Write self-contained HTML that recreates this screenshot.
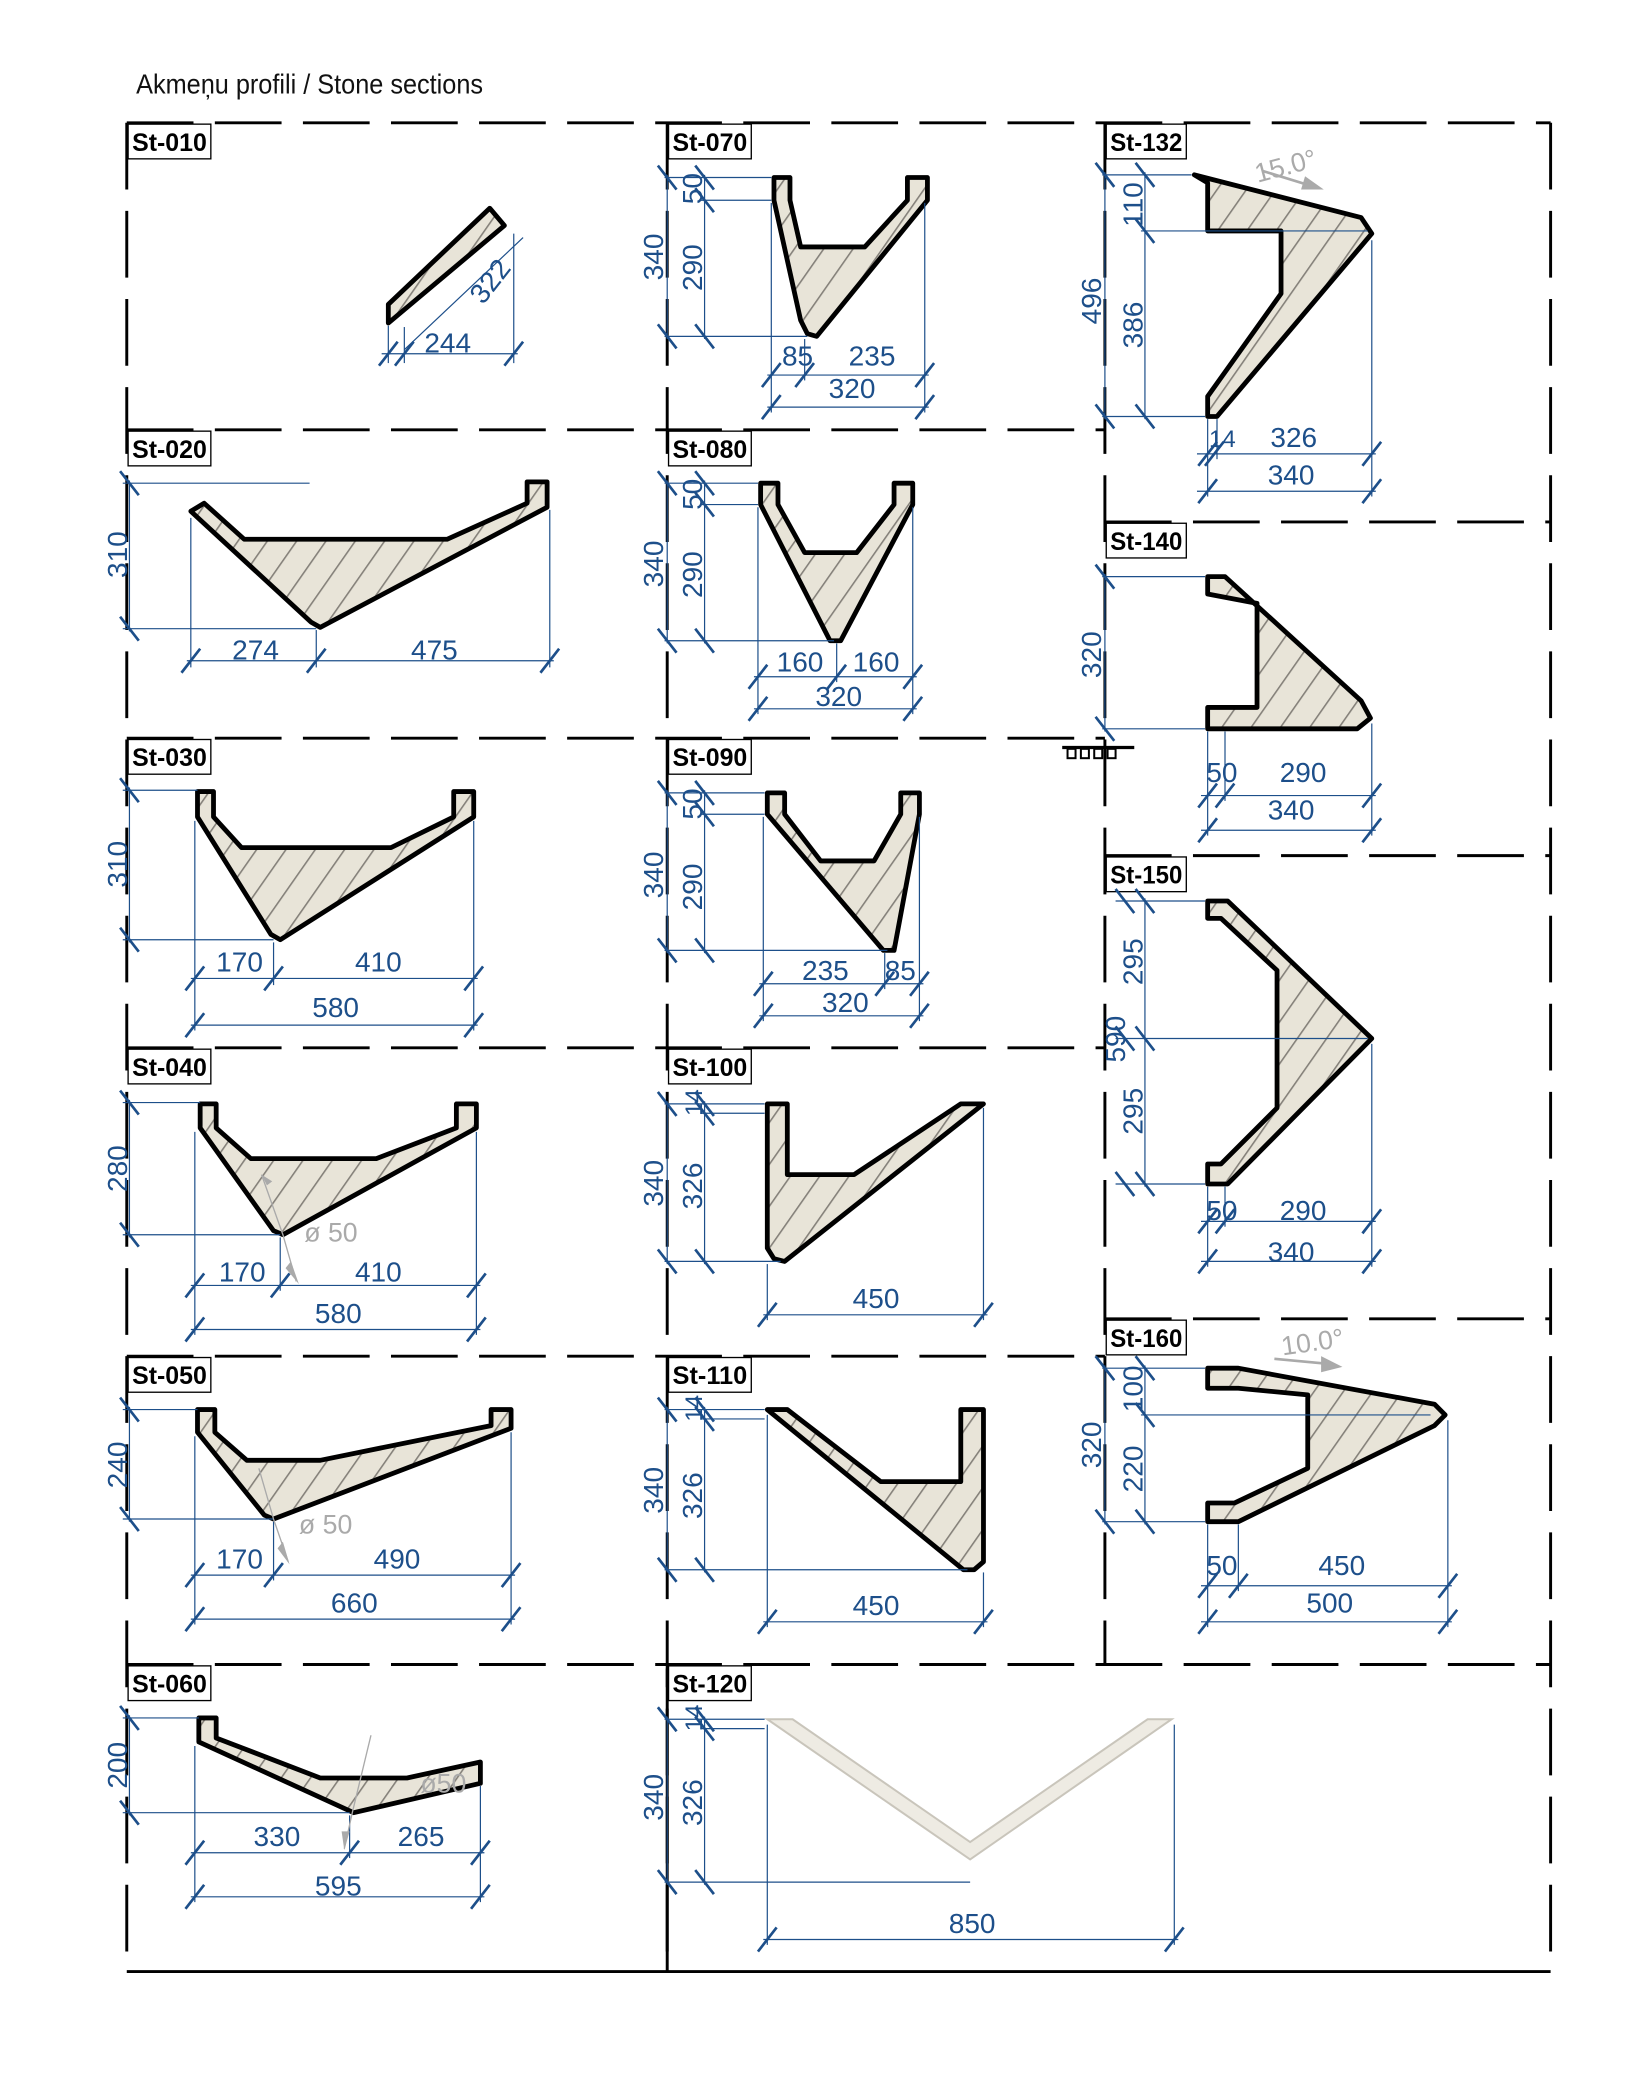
<!DOCTYPE html>
<html><head><meta charset="utf-8"><style>
html,body{margin:0;padding:0;background:#fff;}
svg{display:block;}
.g{stroke:#000;stroke-width:2.2;stroke-dasharray:50 16;fill:none;}
.s{fill:url(#h);stroke:#000;stroke-width:3.6;stroke-linejoin:round;}
.d{stroke:#1d4f8a;stroke-width:0.9;fill:none;}
.k{stroke:#1d4f8a;stroke-width:2;}
.t{fill:#1d4f8a;font-family:"Liberation Sans Narrow","Liberation Sans",sans-serif;font-size:21px;}
.lb rect{fill:#fff;stroke:#000;stroke-width:1;}
.lb text{font-family:"Liberation Sans Narrow","Liberation Sans",sans-serif;font-weight:bold;font-size:19px;fill:#000;}
.gr{fill:#aaa;font-family:"Liberation Sans",sans-serif;font-size:20px;}
</style></head><body>
<svg width="1628" height="2085" viewBox="0 0 1220 1562" preserveAspectRatio="none" xmlns="http://www.w3.org/2000/svg">
<defs>
<pattern id="h" width="18" height="18" patternUnits="userSpaceOnUse" patternTransform="rotate(35)">
<rect width="18" height="18" fill="#e8e4d8"/><line x1="0" y1="0" x2="0" y2="18" stroke="#85817a" stroke-width="2.4"/>
</pattern>
</defs>
<text x="102" y="70" font-family="Liberation Sans Narrow,Liberation Sans,sans-serif" font-size="21" fill="#111" textLength="260" lengthAdjust="spacingAndGlyphs">Akmeņu profili / Stone sections</text>

<g class="g">
<line x1="95" y1="92" x2="1162" y2="92"/>
<line x1="95" y1="322" x2="828" y2="322"/>
<line x1="95" y1="553" x2="828" y2="553"/>
<line x1="95" y1="785" x2="828" y2="785"/>
<line x1="95" y1="1016" x2="828" y2="1016"/>
<line x1="95" y1="1247" x2="1162" y2="1247"/>
<line x1="828" y1="391" x2="1162" y2="391"/>
<line x1="828" y1="641" x2="1162" y2="641"/>
<line x1="828" y1="988" x2="1162" y2="988"/>
<line x1="95" y1="92" x2="95" y2="1477"/>
<line x1="500" y1="92" x2="500" y2="1477"/>
<line x1="828" y1="92" x2="828" y2="1247"/>
<line x1="1162" y1="92" x2="1162" y2="1477"/>
</g>
<line x1="95" y1="1477" x2="1162" y2="1477" stroke="#000" stroke-width="2.2"/>
<line x1="500" y1="1250" x2="500" y2="1477" stroke="#000" stroke-width="2.2"/>

<g class="lb">
<rect x="96" y="93" width="62" height="26"/><text x="99" y="113" textLength="56" lengthAdjust="spacingAndGlyphs">St-010</text>
<rect x="96" y="323" width="62" height="26"/><text x="99" y="343" textLength="56" lengthAdjust="spacingAndGlyphs">St-020</text>
<rect x="96" y="554" width="62" height="26"/><text x="99" y="574" textLength="56" lengthAdjust="spacingAndGlyphs">St-030</text>
<rect x="96" y="786" width="62" height="26"/><text x="99" y="806" textLength="56" lengthAdjust="spacingAndGlyphs">St-040</text>
<rect x="96" y="1017" width="62" height="26"/><text x="99" y="1037" textLength="56" lengthAdjust="spacingAndGlyphs">St-050</text>
<rect x="96" y="1248" width="62" height="26"/><text x="99" y="1268" textLength="56" lengthAdjust="spacingAndGlyphs">St-060</text>
<rect x="501" y="93" width="62" height="26"/><text x="504" y="113" textLength="56" lengthAdjust="spacingAndGlyphs">St-070</text>
<rect x="501" y="323" width="62" height="26"/><text x="504" y="343" textLength="56" lengthAdjust="spacingAndGlyphs">St-080</text>
<rect x="501" y="554" width="62" height="26"/><text x="504" y="574" textLength="56" lengthAdjust="spacingAndGlyphs">St-090</text>
<rect x="501" y="786" width="62" height="26"/><text x="504" y="806" textLength="56" lengthAdjust="spacingAndGlyphs">St-100</text>
<rect x="501" y="1017" width="62" height="26"/><text x="504" y="1037" textLength="56" lengthAdjust="spacingAndGlyphs">St-110</text>
<rect x="501" y="1248" width="62" height="26"/><text x="504" y="1268" textLength="56" lengthAdjust="spacingAndGlyphs">St-120</text>
<rect x="829" y="93" width="60" height="26"/><text x="832" y="113" textLength="54" lengthAdjust="spacingAndGlyphs">St-132</text>
<rect x="829" y="392" width="60" height="26"/><text x="832" y="412" textLength="54" lengthAdjust="spacingAndGlyphs">St-140</text>
<rect x="829" y="642" width="60" height="26"/><text x="832" y="662" textLength="54" lengthAdjust="spacingAndGlyphs">St-150</text>
<rect x="829" y="989" width="60" height="26"/><text x="832" y="1009" textLength="54" lengthAdjust="spacingAndGlyphs">St-160</text>
</g>

<polygon class="s" points="291,228 291,242 378,169 367,156"/>
<polygon class="s" points="143,383 153,377 183,404 335,404 395,377 395,361 410,361 410,380 240,470 233,466"/>
<polygon class="s" points="148,593 160,593 160,612 181,635 293,635 340,612 340,593 355,593 355,612 210,704 203,700 148,612"/>
<polygon class="s" points="150,827 162,827 162,845 188,868 282,868 342,845 342,827 357,827 357,845 212,925 205,922 150,845"/>
<polygon class="s" points="148,1056 161,1056 161,1073 185,1094 240,1094 368,1068 368,1056 383,1056 383,1070 205,1138 198,1135 148,1073"/>
<polygon class="s" points="149,1287 162,1287 162,1302 240,1332 305,1332 360,1320 360,1336 265,1358 149,1305"/>
<polygon class="s" points="580,133 592,133 592,150 600,185 648,185 680,150 680,133 695,133 695,150 612,252 605,250 600,240 580,150"/>
<polygon class="s" points="570,362 583,362 583,378 603,414 642,414 670,378 670,362 684,362 684,378 630,480 622,480 570,378"/>
<polygon class="s" points="575,594 588,594 588,610 615,645 655,645 675,610 675,594 689,594 689,610 670,712 662,712 575,610"/>
<polygon class="s" points="575,827 590,827 590,880 640,880 720,827 737,827 588,945 580,943 575,935"/>
<polygon class="s" points="575,1056 590,1056 660,1110 720,1110 720,1056 737,1056 737,1170 730,1176 722,1176"/>
<polygon points="575,1288 594,1288 727,1380 860,1288 878,1288 727,1393" fill="#eeebe3" stroke="#c9c5bb" stroke-width="1.5"/>
<polygon class="s" points="895,131 1020,163 1028,175 912,312 905,312 905,297 960,220 960,173 905,173 905,137"/>
<polygon class="s" points="905,432 918,432 1020,525 1027,538 1017,546 905,546 905,530 942,530 942,452 905,445"/>
<polygon class="s" points="905,675 920,675 1028,778 920,887 905,887 905,872 915,872 957,830 957,727 915,688 905,688"/>
<polygon class="s" points="905,1025 928,1025 1075,1052 1083,1060 1075,1068 928,1140 905,1140 905,1126 925,1126 980,1100 980,1045 928,1040 905,1040"/>

<g class="d">
<line x1="291" y1="244" x2="291" y2="272"/><line x1="385" y1="175" x2="385" y2="272"/><line x1="286" y1="265" x2="388" y2="265"/><line x1="303" y1="262" x2="392" y2="178"/><line x1="303" y1="245" x2="303" y2="272"/>
<line x1="92" y1="362" x2="232" y2="362"/><line x1="92" y1="471" x2="237" y2="471"/><line x1="97" y1="360" x2="97" y2="473"/>
<line x1="143" y1="388" x2="143" y2="500"/><line x1="237" y1="472" x2="237" y2="500"/><line x1="412" y1="382" x2="412" y2="500"/><line x1="140" y1="495" x2="415" y2="495"/>
<line x1="92" y1="592" x2="148" y2="592"/><line x1="92" y1="704" x2="205" y2="704"/><line x1="97" y1="590" x2="97" y2="706"/>
<line x1="146" y1="615" x2="146" y2="772"/><line x1="205" y1="706" x2="205" y2="738"/><line x1="355" y1="615" x2="355" y2="772"/><line x1="143" y1="733" x2="358" y2="733"/><line x1="143" y1="768" x2="358" y2="768"/>
<line x1="92" y1="826" x2="150" y2="826"/><line x1="92" y1="925" x2="210" y2="925"/><line x1="97" y1="824" x2="97" y2="927"/>
<line x1="146" y1="848" x2="146" y2="1000"/><line x1="210" y1="927" x2="210" y2="967"/><line x1="357" y1="848" x2="357" y2="1000"/><line x1="143" y1="963" x2="360" y2="963"/><line x1="143" y1="996" x2="360" y2="996"/>
<line x1="92" y1="1056" x2="148" y2="1056"/><line x1="92" y1="1138" x2="205" y2="1138"/><line x1="97" y1="1054" x2="97" y2="1140"/>
<line x1="146" y1="1076" x2="146" y2="1217"/><line x1="205" y1="1140" x2="205" y2="1184"/><line x1="383" y1="1073" x2="383" y2="1217"/><line x1="143" y1="1180" x2="386" y2="1180"/><line x1="143" y1="1213" x2="386" y2="1213"/>
<line x1="92" y1="1287" x2="149" y2="1287"/><line x1="92" y1="1358" x2="262" y2="1358"/><line x1="97" y1="1285" x2="97" y2="1360"/>
<line x1="146" y1="1308" x2="146" y2="1425"/><line x1="262" y1="1360" x2="262" y2="1392"/><line x1="360" y1="1338" x2="360" y2="1425"/><line x1="143" y1="1388" x2="363" y2="1388"/><line x1="143" y1="1421" x2="363" y2="1421"/>
<line x1="498" y1="133" x2="578" y2="133"/><line x1="525" y1="150" x2="578" y2="150"/><line x1="498" y1="252" x2="605" y2="252"/><line x1="500" y1="131" x2="500" y2="254"/><line x1="528" y1="131" x2="528" y2="254"/>
<line x1="578" y1="152" x2="578" y2="309"/><line x1="603" y1="254" x2="603" y2="285"/><line x1="693" y1="152" x2="693" y2="309"/><line x1="575" y1="281" x2="696" y2="281"/><line x1="575" y1="305" x2="696" y2="305"/>
<line x1="498" y1="362" x2="568" y2="362"/><line x1="525" y1="378" x2="568" y2="378"/><line x1="498" y1="480" x2="625" y2="480"/><line x1="500" y1="360" x2="500" y2="482"/><line x1="528" y1="360" x2="528" y2="482"/>
<line x1="568" y1="380" x2="568" y2="535"/><line x1="627" y1="482" x2="627" y2="511"/><line x1="684" y1="380" x2="684" y2="535"/><line x1="565" y1="507" x2="687" y2="507"/><line x1="565" y1="531" x2="687" y2="531"/>
<line x1="498" y1="594" x2="573" y2="594"/><line x1="525" y1="610" x2="573" y2="610"/><line x1="498" y1="712" x2="665" y2="712"/><line x1="500" y1="592" x2="500" y2="714"/><line x1="528" y1="592" x2="528" y2="714"/>
<line x1="572" y1="612" x2="572" y2="765"/><line x1="663" y1="714" x2="663" y2="741"/><line x1="689" y1="612" x2="689" y2="765"/><line x1="569" y1="737" x2="692" y2="737"/><line x1="569" y1="761" x2="692" y2="761"/>
<line x1="498" y1="827" x2="573" y2="827"/><line x1="525" y1="834" x2="573" y2="834"/><line x1="498" y1="945" x2="585" y2="945"/><line x1="500" y1="825" x2="500" y2="947"/><line x1="528" y1="825" x2="528" y2="947"/>
<line x1="575" y1="947" x2="575" y2="989"/><line x1="737" y1="830" x2="737" y2="989"/><line x1="572" y1="985" x2="740" y2="985"/>
<line x1="498" y1="1056" x2="573" y2="1056"/><line x1="525" y1="1063" x2="573" y2="1063"/><line x1="498" y1="1176" x2="725" y2="1176"/><line x1="500" y1="1054" x2="500" y2="1178"/><line x1="528" y1="1054" x2="528" y2="1178"/>
<line x1="575" y1="1060" x2="575" y2="1219"/><line x1="737" y1="1178" x2="737" y2="1219"/><line x1="572" y1="1215" x2="740" y2="1215"/>
<line x1="498" y1="1288" x2="573" y2="1288"/><line x1="525" y1="1295" x2="573" y2="1295"/><line x1="498" y1="1410" x2="727" y2="1410"/><line x1="500" y1="1286" x2="500" y2="1412"/><line x1="528" y1="1286" x2="528" y2="1412"/>
<line x1="575" y1="1292" x2="575" y2="1457"/><line x1="880" y1="1292" x2="880" y2="1457"/><line x1="572" y1="1453" x2="883" y2="1453"/>
<line x1="826" y1="131" x2="893" y2="131"/><line x1="855" y1="173" x2="1025" y2="173"/><line x1="826" y1="312" x2="903" y2="312"/><line x1="828" y1="129" x2="828" y2="314"/><line x1="858" y1="129" x2="858" y2="314"/>
<line x1="905" y1="314" x2="905" y2="372"/><line x1="912" y1="314" x2="912" y2="344"/><line x1="1028" y1="180" x2="1028" y2="372"/><line x1="897" y1="340" x2="1031" y2="340"/><line x1="897" y1="368" x2="1031" y2="368"/>
<line x1="826" y1="432" x2="903" y2="432"/><line x1="826" y1="546" x2="903" y2="546"/><line x1="828" y1="430" x2="828" y2="548"/>
<line x1="905" y1="548" x2="905" y2="626"/><line x1="918" y1="548" x2="918" y2="600"/><line x1="1028" y1="542" x2="1028" y2="626"/><line x1="900" y1="596" x2="1031" y2="596"/><line x1="900" y1="622" x2="1031" y2="622"/>
<line x1="836" y1="675" x2="903" y2="675"/><line x1="836" y1="778" x2="1025" y2="778"/><line x1="836" y1="887" x2="903" y2="887"/><line x1="858" y1="673" x2="858" y2="889"/>
<line x1="905" y1="889" x2="905" y2="949"/><line x1="918" y1="889" x2="918" y2="919"/><line x1="1028" y1="782" x2="1028" y2="949"/><line x1="900" y1="915" x2="1031" y2="915"/><line x1="900" y1="945" x2="1031" y2="945"/>
<line x1="826" y1="1025" x2="903" y2="1025"/><line x1="855" y1="1060" x2="1072" y2="1060"/><line x1="826" y1="1140" x2="903" y2="1140"/><line x1="828" y1="1023" x2="828" y2="1142"/><line x1="858" y1="1023" x2="858" y2="1142"/>
<line x1="905" y1="1142" x2="905" y2="1219"/><line x1="928" y1="1142" x2="928" y2="1192"/><line x1="1085" y1="1064" x2="1085" y2="1219"/><line x1="900" y1="1188" x2="1088" y2="1188"/><line x1="900" y1="1215" x2="1088" y2="1215"/>
</g>

<g class="k">
<path d="M284,274 l14,-18 M296,274 l14,-18 M378,274 l14,-18
M136,504 l14,-18 M230,504 l14,-18 M405,504 l14,-18
M139,742 l14,-18 M198,742 l14,-18 M348,742 l14,-18 M139,777 l14,-18 M348,777 l14,-18
M139,972 l14,-18 M203,972 l14,-18 M350,972 l14,-18 M139,1005 l14,-18 M350,1005 l14,-18
M139,1189 l14,-18 M198,1189 l14,-18 M376,1189 l14,-18 M139,1222 l14,-18 M376,1222 l14,-18
M139,1397 l14,-18 M255,1397 l14,-18 M353,1397 l14,-18 M139,1430 l14,-18 M353,1430 l14,-18
M571,290 l14,-18 M596,290 l14,-18 M686,290 l14,-18 M571,314 l14,-18 M686,314 l14,-18
M561,516 l14,-18 M620,516 l14,-18 M677,516 l14,-18 M561,540 l14,-18 M677,540 l14,-18
M565,746 l14,-18 M656,746 l14,-18 M682,746 l14,-18 M565,770 l14,-18 M682,770 l14,-18
M568,994 l14,-18 M730,994 l14,-18 M568,1224 l14,-18 M730,1224 l14,-18 M568,1462 l14,-18 M873,1462 l14,-18
M898,349 l14,-18 M903,349 l14,-18 M1021,349 l14,-18 M898,377 l14,-18 M1021,377 l14,-18
M898,605 l14,-18 M911,605 l14,-18 M1021,605 l14,-18 M898,631 l14,-18 M1021,631 l14,-18
M898,924 l14,-18 M911,924 l14,-18 M1021,924 l14,-18 M898,954 l14,-18 M1021,954 l14,-18
M898,1197 l14,-18 M921,1197 l14,-18 M1078,1197 l14,-18 M898,1224 l14,-18 M1078,1224 l14,-18"/>
<path d="M90,353 l14,18 M90,462 l14,18 M90,583 l14,18 M90,695 l14,18 M90,817 l14,18 M90,916 l14,18
M90,1047 l14,18 M90,1129 l14,18 M90,1278 l14,18 M90,1349 l14,18
M493,124 l14,18 M493,243 l14,18 M521,124 l14,18 M521,141 l14,18 M521,243 l14,18
M493,353 l14,18 M493,471 l14,18 M521,353 l14,18 M521,369 l14,18 M521,471 l14,18
M493,585 l14,18 M493,703 l14,18 M521,585 l14,18 M521,601 l14,18 M521,703 l14,18
M493,818 l14,18 M493,936 l14,18 M521,818 l14,18 M521,825 l14,18 M521,936 l14,18
M493,1047 l14,18 M493,1167 l14,18 M521,1047 l14,18 M521,1054 l14,18 M521,1167 l14,18
M493,1279 l14,18 M493,1401 l14,18 M521,1279 l14,18 M521,1286 l14,18 M521,1401 l14,18
M821,122 l14,18 M821,303 l14,18 M851,122 l14,18 M851,164 l14,18 M851,303 l14,18
M821,423 l14,18 M821,537 l14,18
M836,666 l14,18 M836,769 l14,18 M836,878 l14,18 M851,666 l14,18 M851,769 l14,18 M851,878 l14,18
M821,1016 l14,18 M821,1131 l14,18 M851,1016 l14,18 M851,1051 l14,18 M851,1131 l14,18"/>
</g>

<g class="t">
<text x="318" y="264">244</text>
<text x="348" y="224" transform="rotate(-52 360 212)">322</text>
<text x="174" y="494">274</text><text x="308" y="494">475</text>
<text x="162" y="728">170</text><text x="266" y="728">410</text><text x="234" y="762">580</text>
<text x="164" y="960">170</text><text x="266" y="960">410</text><text x="236" y="991">580</text>
<text x="162" y="1175">170</text><text x="280" y="1175">490</text><text x="248" y="1208">660</text>
<text x="190" y="1383">330</text><text x="298" y="1383">265</text><text x="236" y="1420">595</text>
<text x="586" y="274">85</text><text x="636" y="274">235</text><text x="621" y="298">320</text>
<text x="582" y="503">160</text><text x="639" y="503">160</text><text x="611" y="529">320</text>
<text x="601" y="734">235</text><text x="663" y="734">85</text><text x="616" y="758">320</text>
<text x="639" y="980">450</text><text x="639" y="1210">450</text><text x="711" y="1448">850</text>
<text x="906" y="335" font-size="18">14</text><text x="952" y="335">326</text><text x="950" y="363">340</text>
<text x="904" y="586">50</text><text x="959" y="586">290</text><text x="950" y="614">340</text>
<text x="904" y="914">50</text><text x="959" y="914">290</text><text x="950" y="945">340</text>
<text x="904" y="1180">50</text><text x="988" y="1180">450</text><text x="979" y="1208">500</text>
<text transform="translate(95,433) rotate(-90)">310</text>
<text transform="translate(95,665) rotate(-90)">310</text>
<text transform="translate(95,893) rotate(-90)">280</text>
<text transform="translate(95,1115) rotate(-90)">240</text>
<text transform="translate(95,1340) rotate(-90)">200</text>
<text transform="translate(497,210) rotate(-90)">340</text><text transform="translate(526,218) rotate(-90)">290</text><text transform="translate(526,153) rotate(-90)">50</text>
<text transform="translate(497,440) rotate(-90)">340</text><text transform="translate(526,448) rotate(-90)">290</text><text transform="translate(526,382) rotate(-90)">50</text>
<text transform="translate(497,673) rotate(-90)">340</text><text transform="translate(526,682) rotate(-90)">290</text><text transform="translate(526,614) rotate(-90)">50</text>
<text transform="translate(497,904) rotate(-90)">340</text><text transform="translate(526,906) rotate(-90)">326</text><text transform="translate(526,836) rotate(-90)" font-size="18">14</text>
<text transform="translate(497,1134) rotate(-90)">340</text><text transform="translate(526,1138) rotate(-90)">326</text><text transform="translate(526,1065) rotate(-90)" font-size="18">14</text>
<text transform="translate(497,1364) rotate(-90)">340</text><text transform="translate(526,1368) rotate(-90)">326</text><text transform="translate(526,1297) rotate(-90)" font-size="18">14</text>
<text transform="translate(825,243) rotate(-90)">496</text><text transform="translate(856,170) rotate(-90)">110</text><text transform="translate(856,261) rotate(-90)">386</text>
<text transform="translate(825,508) rotate(-90)">320</text>
<text transform="translate(843,796) rotate(-90)">590</text><text transform="translate(856,738) rotate(-90)">295</text><text transform="translate(856,850) rotate(-90)">295</text>
<text transform="translate(825,1100) rotate(-90)">320</text><text transform="translate(856,1058) rotate(-90)">100</text><text transform="translate(856,1118) rotate(-90)">220</text>
</g>

<g>
<text class="gr" x="228" y="930">ø 50</text>
<path d="M196,880 L212,925 L222,960" stroke="#aaa" stroke-width="1" fill="none"/>
<polygon points="200,888 196,880 204,885" fill="#aaa"/><polygon points="218,945 224,962 214,950" fill="#aaa"/>
<text class="gr" x="224" y="1149">ø 50</text>
<path d="M194,1100 L205,1138 L216,1170" stroke="#aaa" stroke-width="1" fill="none"/>
<polygon points="212,1155 217,1172 208,1160" fill="#aaa"/>
<text class="gr" x="315" y="1343" font-size="16">ø50</text>
<path d="M278,1300 L264,1358 L258,1385" stroke="#aaa" stroke-width="1" fill="none"/>
<polygon points="256,1372 258,1386 262,1372" fill="#aaa"/>
<text class="gr" x="940" y="132" transform="rotate(-15 960 125)">15.0°</text>
<path d="M946,128 L985,140" stroke="#aaa" stroke-width="2"/><polygon points="978,132 992,142 975,142" fill="#aaa"/>
<text class="gr" x="960" y="1012" transform="rotate(-8 985 1005)">10.0°</text>
<path d="M955,1018 L998,1022" stroke="#aaa" stroke-width="2"/><polygon points="990,1016 1006,1024 990,1028" fill="#aaa"/>
</g>
<g stroke="#000" stroke-width="1.5" fill="none">
<line x1="796" y1="560" x2="850" y2="560" stroke-width="2.5"/>
<rect x="800" y="561" width="6" height="7"/><rect x="810" y="561" width="6" height="7"/><rect x="820" y="561" width="6" height="7"/><rect x="830" y="561" width="6" height="7"/>
</g>
</svg>
</body></html>
